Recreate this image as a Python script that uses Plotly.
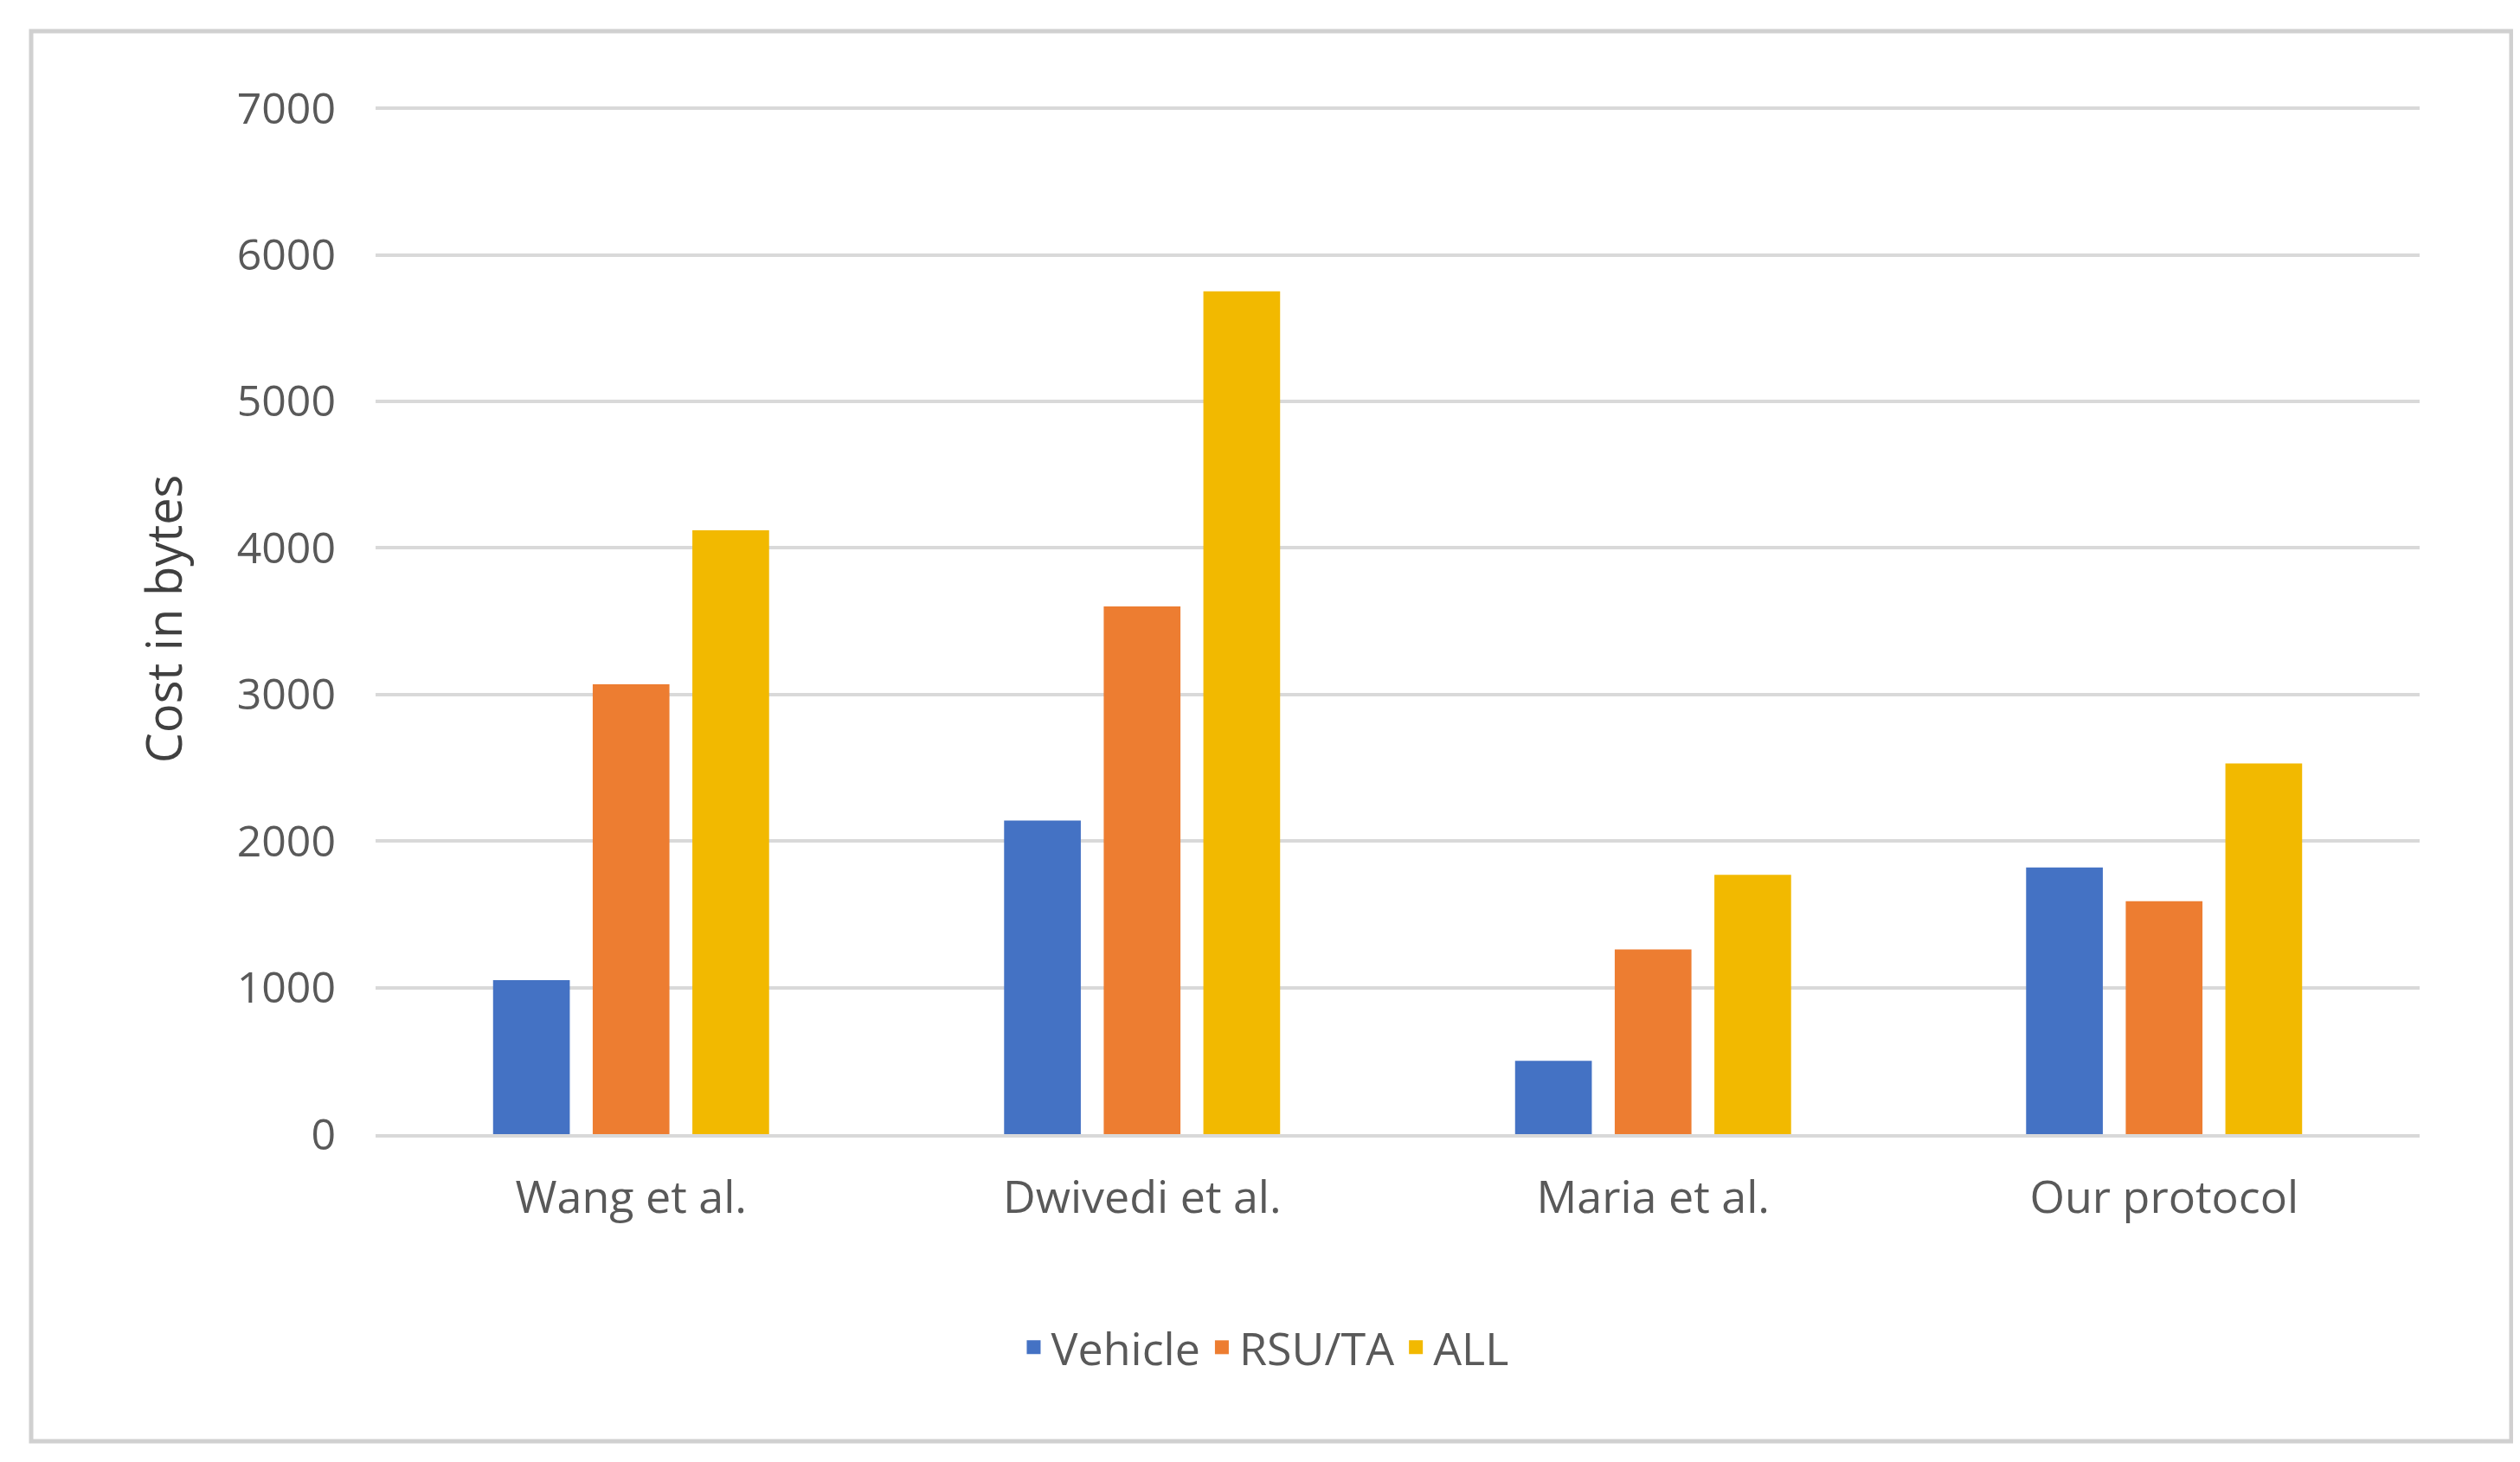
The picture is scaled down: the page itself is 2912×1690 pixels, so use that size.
import plotly.graph_objects as go

categories = ["Wang et al.", "Dwivedi et al.", "Maria et al.", "Our protocol"]
vehicle = [1050, 2140, 500, 1820]
rsu_ta = [3070, 3600, 1260, 1590]
all_ = [4120, 5750, 1770, 2530]
tick_vals = [0, 1000, 2000, 3000, 4000, 5000, 6000, 7000]
series = [("Vehicle", vehicle, "#4472C4"), ("RSU/TA", rsu_ta, "#ED7D31"), ("ALL", all_, "#F2B900")]

fig = go.Figure()
for name, vals, col in series:
    fig.add_trace(go.Bar(name=name, x=categories, y=vals, showlegend=False,
                         marker=dict(color=col, line=dict(width=0))))
for name, vals, col in series:
    fig.add_trace(go.Scatter(name=name, x=[None], y=[None], mode="markers",
                             marker=dict(symbol="square", size=40, color=col)))

W, H = 2912, 1690
L, R, T, B = 426, 124, 112, 387
pw, ph = W - L - R, H - T - B
fig.update_layout(
    width=W, height=H,
    paper_bgcolor="white", plot_bgcolor="white",
    barmode="group", bargap=0.415, bargroupgap=0.23,
    margin=dict(l=L, r=R, t=T, b=B),
    font=dict(family="Open Sans, DejaVu Sans", color="#595959", size=50),
    legend=dict(orientation="h", x=0.435, xanchor="center", y=-0.207, yanchor="middle",
                font=dict(size=52, color="#595959"), itemwidth=30, tracegroupgap=0),
)
fig.update_yaxes(range=[0, 7030], tickvals=tick_vals, showgrid=True, gridcolor="#D9D9D9", gridwidth=4,
                 zeroline=False, showline=False, ticks="", ticklabelstandoff=45,
                 title=dict(text="Cost in bytes", font=dict(size=56, color="#404040"), standoff=45),
                 tickfont=dict(size=50, color="#595959"))
fig.update_xaxes(showline=True, linecolor="#D9D9D9", linewidth=4, ticks="", ticklabelstandoff=25,
                 tickfont=dict(size=52, color="#595959"))
fig.add_shape(type="rect", xref="paper", yref="paper",
              x0=(28 - L) / pw, x1=(2894 - L) / pw,
              y0=(H - B - 1658) / ph, y1=(H - B - 28) / ph,
              line=dict(color="#D0D0D0", width=5), fillcolor="rgba(0,0,0,0)")
fig.write_html("out.html")
